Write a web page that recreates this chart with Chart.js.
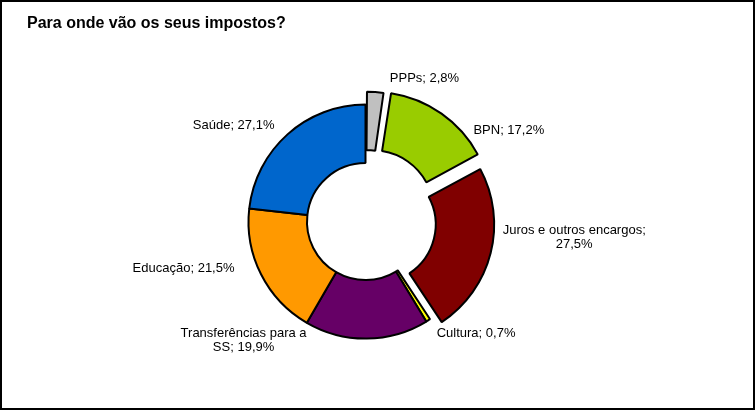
<!DOCTYPE html>
<html>
<head>
<meta charset="utf-8">
<script src="https://cdn.jsdelivr.net/npm/chart.js@4.4.1/dist/chart.umd.min.js"></script>
<style>
  html, body { margin: 0; padding: 0; background: #fff; }
  #wrap { width: 756px; height: 411px; position: relative; }
</style>
</head>
<body>
<div id="wrap"><canvas id="c"></canvas></div>
<script>
// ---- data ----
const categories = ['PPPs', 'BPN', 'Juros e outros encargos', 'Cultura', 'Transferências para a SS', 'Educação', 'Saúde'];
const values = [2.8, 17.2, 27.5, 0.7, 19.9, 21.5, 27.1];
const chartTitle = 'Para onde vão os seus impostos?';

// ---- styles / layout (separate from data) ----
const sliceColors = ['#C0C0C0', '#99CC00', '#800000', '#FFFF00', '#660066', '#FF9900', '#0066CC'];
const sliceOffsets = [28, 50, 48, 0, 0, 0, 0];
// label centre relative to the doughnut centre, in units of the outer radius
const labelPlacement = [
  [0.504, -1.225], [1.225, -0.780], [1.784, 0.136], [0.945, 0.953],
  [-1.042, 1.015], [-1.555, 0.398], [-1.127, -0.826]
];

function fmt(v) { return v.toFixed(1).replace('.', ','); }

const frameAndLabels = {
  id: 'frameAndLabels',
  beforeDraw(chart) {
    const ctx = chart.ctx;
    ctx.save();
    ctx.fillStyle = '#fff';
    ctx.fillRect(0, 0, chart.width, chart.height);
    ctx.restore();
  },
  afterDatasetsDraw(chart) {
    const ctx = chart.ctx;
    const meta = chart.getDatasetMeta(0);
    const arc0 = meta.data[0];
    const cx = arc0.x, cy = arc0.y, R = arc0.outerRadius;
    ctx.save();
    ctx.font = '13px "Liberation Sans", Arial, sans-serif';
    ctx.fillStyle = '#000';
    ctx.textAlign = 'center';
    ctx.textBaseline = 'middle';
    const maxW = 145, lh = 14.5;
    categories.forEach((name, i) => {
      const text = name + '; ' + fmt(values[i]) + '%';
      const words = text.split(' ');
      const lines = [];
      let cur = '';
      words.forEach(w => {
        const t = cur ? cur + ' ' + w : w;
        if (cur && ctx.measureText(t).width > maxW) { lines.push(cur); cur = w; }
        else cur = t;
      });
      if (cur) lines.push(cur);
      const x = cx + labelPlacement[i][0] * R;
      const y0 = cy + labelPlacement[i][1] * R - (lines.length - 1) * lh / 2;
      lines.forEach((ln, k) => ctx.fillText(ln, x, y0 + k * lh));
    });
    ctx.restore();
  },
  afterDraw(chart) {
    const ctx = chart.ctx;
    ctx.save();
    ctx.strokeStyle = '#000';
    ctx.lineWidth = 2;
    ctx.strokeRect(1, 1, 753, 408);
    ctx.restore();
  }
};

new Chart(document.getElementById('c'), {
  type: 'doughnut',
  data: {
    labels: categories,
    datasets: [{
      data: values,
      backgroundColor: sliceColors,
      borderColor: '#000',
      borderWidth: 2,
      offset: sliceOffsets,
      hoverOffset: 0
    }]
  },
  options: {
    responsive: true,
    maintainAspectRatio: false,
    animation: false,
    events: [],
    radius: 117,
    cutout: '50%',
    layout: { padding: { left: 27, right: 52, top: 14, bottom: 9 } },
    plugins: {
      legend: { display: false },
      tooltip: { enabled: false },
      title: {
        display: true,
        text: chartTitle,
        align: 'start',
        color: '#000',
        font: { family: '"Liberation Sans", Arial, sans-serif', size: 16, weight: 'bold', lineHeight: 1.2 },
        padding: { top: 0, bottom: 8 }
      }
    }
  },
  plugins: [frameAndLabels]
});
</script>
</body>
</html>
